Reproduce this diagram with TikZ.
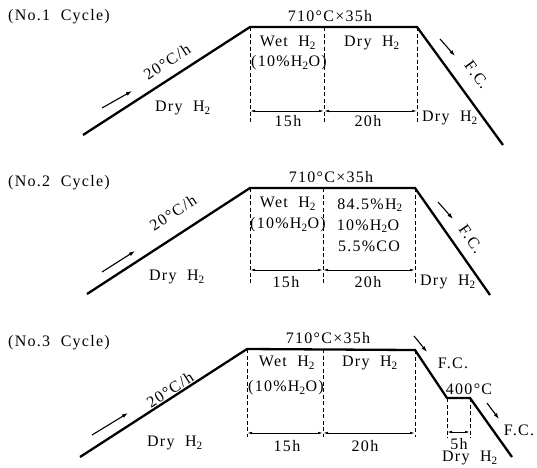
\documentclass[tikz,border=0pt]{standalone}
\usepackage{fontspec}
\setmainfont{Liberation Serif}[LetterSpace=8,WordSpace=2]
\usetikzlibrary{arrows.meta}
\begin{document}
\begin{tikzpicture}[x=1pt,y=-1pt,
  prof/.style={line width=2.3pt, line join=miter},
  dsh/.style={dash pattern=on 4pt off 2.5pt, line width=0.7pt},
  dimline/.style={{Latex[length=5pt,width=2.5pt]}-{Latex[length=5pt,width=2.5pt]}, line width=0.8pt},
  flow/.style={-{Latex[length=6pt,width=4pt]}, line width=1.1pt},
  lbl/.style={inner sep=0pt, font=\fontsize{16}{18}\selectfont}]
\useasboundingbox (0,0) rectangle (537,467);
% ---------------- Cycle 1 ----------------
\node[lbl, anchor=west] (t1) at (8,17) {(No.1 Cycle)};
\coordinate (a0) at (83,135);
\coordinate (a1) at (250,27);
\coordinate (a2) at (417,27);
\coordinate (a3) at (503,145);
\coordinate (am) at (324,27);
\coordinate (a1b) at (250,123);
\coordinate (amb) at (324,123);
\coordinate (a2b) at (417,123);
\coordinate (ad1) at (250,111);
\coordinate (ad2) at (324,111);
\coordinate (ad3) at (417,111);
\draw[dsh] (a1) -- (a1b);
\draw[dsh] (am) -- (amb);
\draw[dsh] (a2) -- (a2b);
\draw[prof] (a0) -- (a1) -- (a2) -- (a3);
\draw[dimline] (ad1) -- (ad2);
\draw[dimline] (ad2) -- (ad3);
\node[lbl] (a15) at (288,121) {15h};
\node[lbl] (a20) at (368,121) {20h};
\node[lbl] (atop) at (330,16) {710°C×35h};
\node[lbl] (awet) at (288,43) {Wet H\textsubscript{2}};
\node[lbl] (awp) at (289,63) {(10\%H\textsubscript{2}O)};
\node[lbl] (adry) at (372,43) {Dry H\textsubscript{2}};
\node[lbl] (adr2) at (450,118) {Dry H\textsubscript{2}};
\node[lbl] (adr1) at (183,108) {Dry H\textsubscript{2}};
\node[lbl, rotate=33] (arate) at (167,62) {20°C/h};
\node[lbl, rotate=-54] (afc) at (477,75) {F.C.};
\coordinate (af1) at (102,108); \coordinate (af2) at (132,91);
\draw[flow] (af1) -- (af2);
\coordinate (af3) at (440,39); \coordinate (af4) at (455,56);
\draw[flow] (af3) -- (af4);
% ---------------- Cycle 2 ----------------
\node[lbl, anchor=west] (t2) at (8,183) {(No.2 Cycle)};
\coordinate (b0) at (87,294);
\coordinate (b1) at (250,188);
\coordinate (b2) at (415,188);
\coordinate (b3) at (490,295);
\coordinate (bm) at (323,188);
\coordinate (b1b) at (250,285);
\coordinate (bmb) at (323,285);
\coordinate (b2b) at (415,285);
\coordinate (bd1) at (250,270);
\coordinate (bd2) at (323,270);
\coordinate (bd3) at (415,270);
\draw[dsh] (b1) -- (b1b);
\draw[dsh] (bm) -- (bmb);
\draw[dsh] (b2) -- (b2b);
\draw[prof] (b0) -- (b1) -- (b2) -- (b3);
\draw[dimline] (bd1) -- (bd2);
\draw[dimline] (bd2) -- (bd3);
\node[lbl] (b15) at (286,282) {15h};
\node[lbl] (b20) at (368,282) {20h};
\node[lbl] (btop) at (331,177) {710°C×35h};
\node[lbl] (bwet) at (288,204) {Wet H\textsubscript{2}};
\node[lbl] (bwp) at (288,225) {(10\%H\textsubscript{2}O)};
\node[lbl] (bg1) at (370,205) {84.5\%H\textsubscript{2}};
\node[lbl] (bg2) at (368,226) {10\%H\textsubscript{2}O};
\node[lbl] (bg3) at (369,246) {5.5\%CO};
\node[lbl] (bdr2) at (448,282) {Dry H\textsubscript{2}};
\node[lbl] (bdr1) at (177,277) {Dry H\textsubscript{2}};
\node[lbl, rotate=33] (brate) at (173,213) {20°C/h};
\node[lbl, rotate=-55] (bfc) at (471,239) {F.C.};
\coordinate (bf1) at (102,272); \coordinate (bf2) at (135,251);
\draw[flow] (bf1) -- (bf2);
\coordinate (bf3) at (438,202); \coordinate (bf4) at (453,219);
\draw[flow] (bf3) -- (bf4);
% ---------------- Cycle 3 ----------------
\node[lbl, anchor=west] (t3) at (8,343) {(No.3 Cycle)};
\coordinate (c0) at (80,457);
\coordinate (c1) at (247,349);
\coordinate (c2) at (415,350);
\coordinate (c3) at (447,398);
\coordinate (c4) at (470,398);
\coordinate (c5) at (512,457);
\coordinate (cm) at (323,349);
\coordinate (c1b) at (247,437);
\coordinate (cmb) at (323,437);
\coordinate (c2b) at (415,437);
\coordinate (c3b) at (447,438);
\coordinate (c4b) at (470,438);
\coordinate (cd1) at (247,433);
\coordinate (cd2) at (323,433);
\coordinate (cd3) at (415,433);
\coordinate (cd4) at (447,432);
\coordinate (cd5) at (470,432);
\draw[dsh] (c1) -- (c1b);
\draw[dsh] (cm) -- (cmb);
\draw[dsh] (c2) -- (c2b);
\draw[dsh] (c3) -- (c3b);
\draw[dsh] (c4) -- (c4b);
\draw[prof] (c0) -- (c1) -- (c2) -- (c3) -- (c4) -- (c5);
\draw[dimline] (cd1) -- (cd2);
\draw[dimline] (cd2) -- (cd3);
\draw[dimline] (cd4) -- (cd5);
\node[lbl] (c15) at (287,446) {15h};
\node[lbl] (c20) at (365,446) {20h};
\node[lbl] (c5h) at (459,444) {5h};
\node[lbl] (ctop) at (328,338) {710°C×35h};
\node[lbl] (cwet) at (287,363) {Wet H\textsubscript{2}};
\node[lbl] (cwp) at (286,388) {(10\%H\textsubscript{2}O)};
\node[lbl] (cdry) at (370,363) {Dry H\textsubscript{2}};
\node[lbl] (cdr2) at (470,458) {Dry H\textsubscript{2}};
\node[lbl] (cdr1) at (175,443) {Dry H\textsubscript{2}};
\node[lbl, rotate=33] (crate) at (170,390) {20°C/h};
\node[lbl] (cfc1) at (453,363) {F.C.};
\node[lbl] (c400) at (469,389) {400°C};
\node[lbl] (cfc2) at (519,430) {F.C.};
\coordinate (cf1) at (92,435); \coordinate (cf2) at (128,413);
\draw[flow] (cf1) -- (cf2);
\coordinate (cf3) at (414,336); \coordinate (cf4) at (427,352);
\draw[flow] (cf3) -- (cf4);
\coordinate (cf5) at (487,403); \coordinate (cf6) at (499,419);
\draw[flow] (cf5) -- (cf6);
\end{tikzpicture}
\end{document}
